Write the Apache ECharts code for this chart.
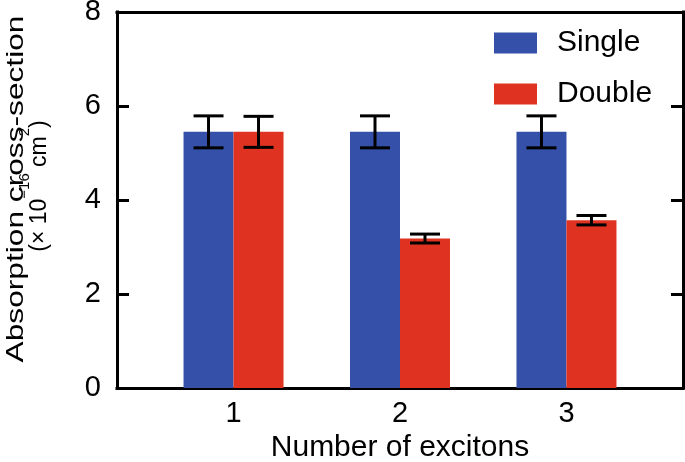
<!DOCTYPE html>
<html>
<head>
<meta charset="utf-8">
<script src="https://cdn.jsdelivr.net/npm/echarts@6/dist/echarts.min.js"></script>
<style>html,body{margin:0;padding:0;background:#fff}#c{width:685px;height:462px}</style>
</head>
<body>
<div id="c"></div>
<script>
const categories = [1, 2, 3];
const categoryLabels = ['1', '2', '3'];
const singleValues = [5.45, 5.45, 5.45];
const singleErrors = [0.34, 0.34, 0.34];
const doubleValues = [5.45, 3.18, 3.57];
const doubleErrors = [0.33, 0.095, 0.10];
const yTicks = [0, 2, 4, 6, 8];
const seriesNames = ['Single', 'Double'];
const yTitleLine1 = 'Absorption cross-section';
const yTitleLine2 = '{a|(× 10}{s|−16}{a| cm}{s|2}{a|)}';
const xTitle = 'Number of excitons';

const FONT = 'Liberation Sans, Arial, Helvetica, sans-serif';
const BAR_W = 50;
const BLUE = '#3450a8';
const RED = '#e03220';

const chart = echarts.init(document.getElementById('c'), null, {renderer: 'canvas'});

function errData(vals, errs) {
  return categories.map((c, i) => [c, vals[i], errs[i]]);
}
function errRender(offset) {
  return function (params, api) {
    const x = api.value(0), y = api.value(1), e = api.value(2);
    const top = api.coord([x, y + e]);
    const bot = api.coord([x, y - e]);
    const cx = top[0] + offset;
    const hw = 15;
    const style = {stroke: '#000', lineWidth: 3, lineCap: 'butt'};
    return {
      type: 'group',
      children: [
        {type: 'line', shape: {x1: cx, y1: top[1], x2: cx, y2: bot[1]}, style: style},
        {type: 'line', shape: {x1: cx - hw, y1: top[1], x2: cx + hw, y2: top[1]}, style: style},
        {type: 'line', shape: {x1: cx - hw, y1: bot[1], x2: cx + hw, y2: bot[1]}, style: style}
      ]
    };
  };
}

const axisLineStyle = {show: true, onZero: false, lineStyle: {color: '#000', width: 3, cap: 'square'}};
const tickStyle = {show: true, inside: true, length: 12, lineStyle: {color: '#000', width: 3}};

const option = {
  animation: false,
  textStyle: {fontFamily: FONT},
  grid: {
    left: 117, right: 2, top: 12, bottom: 74,
    outerBoundsMode: 'none',
    containLabel: false
  },
  legend: {
    orient: 'vertical',
    left: 494, top: 28,
    padding: 0,
    itemWidth: 43, itemHeight: 21, itemGap: 21,
    icon: 'rect',
    data: seriesNames,
    textStyle: {fontSize: 30, color: '#000', fontFamily: FONT, lineHeight: 21, padding: [0, 0, 0, 15]}
  },
  graphic: [
    {
      type: 'text', x: 16, y: 189, rotation: Math.PI / 2, scaleX: 1.32,
      style: {text: yTitleLine1, fontSize: 24, fontFamily: FONT, fill: '#000', align: 'center', verticalAlign: 'middle'}
    }
  ],
  xAxis: [{
    type: 'value',
    min: 0.3, max: 3.7,
    position: 'bottom',
    name: xTitle,
    nameLocation: 'middle',
    nameGap: 44,
    nameTextStyle: {fontSize: 30, color: '#000', fontFamily: FONT},
    axisLine: axisLineStyle,
    axisTick: {show: false},
    splitLine: {show: false},
    axisLabel: {
      customValues: categories,
      formatter: v => categoryLabels[categories.indexOf(v)] ?? '',
      fontSize: 29, color: '#000', margin: 11, fontFamily: FONT
    }
  }, {
    type: 'value',
    min: 0.3, max: 3.7,
    position: 'top',
    axisLine: axisLineStyle,
    axisTick: {show: false},
    splitLine: {show: false},
    axisLabel: {show: false}
  }],
  yAxis: [{
    type: 'value', min: 0, max: 8, interval: 2,
    position: 'left',
    name: yTitleLine2,
    nameLocation: 'middle',
    nameRotate: 90,
    nameGap: 66,
    nameTextStyle: {
      color: '#000', fontFamily: FONT, padding: [0, 0, 0, 28],
      rich: {
        a: {fontSize: 23, lineHeight: 34, verticalAlign: 'bottom', color: '#000', fontFamily: FONT},
        s: {fontSize: 15, lineHeight: 15, verticalAlign: 'top', color: '#000', fontFamily: FONT}
      }
    },
    axisLine: axisLineStyle,
    axisTick: tickStyle,
    splitLine: {show: false},
    axisLabel: {
      customValues: yTicks,
      fontSize: 29, color: '#000', margin: 16, fontFamily: FONT
    }
  }, {
    type: 'value', min: 0, max: 8, interval: 2,
    position: 'right',
    axisLine: axisLineStyle,
    axisTick: tickStyle,
    splitLine: {show: false},
    axisLabel: {show: false}
  }],
  series: [
    {
      name: seriesNames[0], type: 'bar', barWidth: BAR_W, barGap: '0%',
      itemStyle: {color: BLUE},
      data: categories.map((c, i) => [c, singleValues[i]])
    },
    {
      name: seriesNames[1], type: 'bar', barWidth: BAR_W, barGap: '0%',
      itemStyle: {color: RED},
      data: categories.map((c, i) => [c, doubleValues[i]])
    },
    {
      type: 'custom', renderItem: errRender(-BAR_W / 2), z: 10,
      data: errData(singleValues, singleErrors)
    },
    {
      type: 'custom', renderItem: errRender(BAR_W / 2), z: 10,
      data: errData(doubleValues, doubleErrors)
    }
  ]
};
chart.setOption(option);
</script>
</body>
</html>
